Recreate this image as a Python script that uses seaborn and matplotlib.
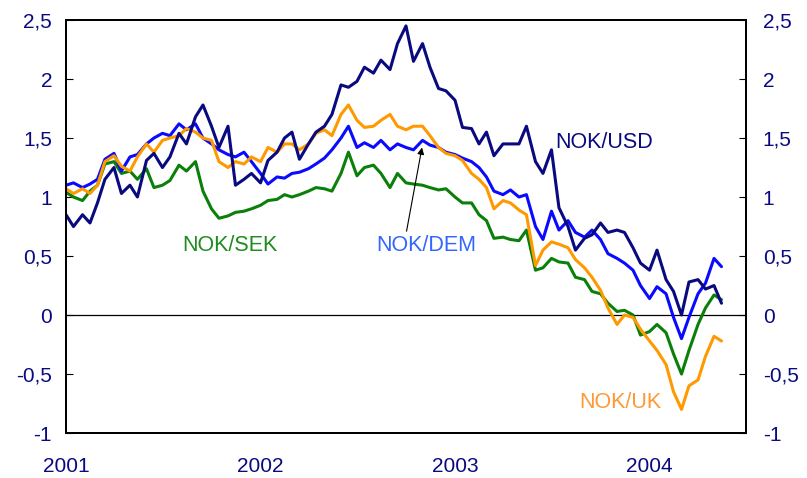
import pandas as pd
import seaborn as sns
import matplotlib.pyplot as plt
import matplotlib.dates as mdates

# semi-monthly readings, Jan 2001 - mid May 2004
dates = pd.date_range("2001-01-01", periods=82, freq="SMS")

nok_usd = [0.85, 0.75, 0.85, 0.78, 0.95, 1.15, 1.25, 1.03, 1.10, 1.00,
           1.31, 1.37, 1.25, 1.34, 1.54, 1.45, 1.68, 1.78, 1.60, 1.42,
           1.60, 1.10, 1.15, 1.20, 1.12, 1.31, 1.38, 1.50, 1.55, 1.32,
           1.45, 1.55, 1.60, 1.70, 1.95, 1.93, 1.98, 2.10, 2.05, 2.16,
           2.08, 2.30, 2.45, 2.15, 2.30, 2.10, 1.92, 1.90, 1.82, 1.59,
           1.58, 1.45, 1.55, 1.35, 1.45, 1.45, 1.45, 1.60, 1.30, 1.20,
           1.40, 0.91, 0.75, 0.55, 0.65, 0.68, 0.78, 0.70, 0.72, 0.70,
           0.57, 0.44, 0.38, 0.55, 0.30, 0.20, 0.00, 0.28, 0.30, 0.22,
           0.25, 0.10]

nok_dem = [1.10, 1.12, 1.08, 1.11, 1.15, 1.32, 1.37, 1.22, 1.34, 1.36,
           1.45, 1.50, 1.54, 1.52, 1.62, 1.57, 1.62, 1.50, 1.45, 1.40,
           1.36, 1.34, 1.38, 1.30, 1.20, 1.11, 1.17, 1.16, 1.20, 1.21,
           1.24, 1.28, 1.33, 1.40, 1.50, 1.60, 1.42, 1.46, 1.42, 1.48,
           1.40, 1.45, 1.42, 1.40, 1.48, 1.44, 1.42, 1.38, 1.36, 1.33,
           1.30, 1.25, 1.17, 1.05, 1.02, 1.06, 1.00, 1.02, 0.75, 0.64,
           0.88, 0.72, 0.80, 0.70, 0.66, 0.72, 0.64, 0.52, 0.48, 0.44,
           0.38, 0.25, 0.14, 0.24, 0.18, -0.02, -0.20, -0.02, 0.18, 0.27,
           0.48, 0.41]

nok_uk = [1.07, 1.03, 1.07, 1.03, 1.10, 1.30, 1.35, 1.26, 1.22, 1.34,
          1.45, 1.38, 1.48, 1.50, 1.52, 1.58, 1.55, 1.50, 1.48, 1.30,
          1.25, 1.30, 1.28, 1.34, 1.30, 1.42, 1.38, 1.45, 1.45, 1.40,
          1.45, 1.54, 1.57, 1.52, 1.70, 1.78, 1.65, 1.59, 1.60, 1.65,
          1.70, 1.60, 1.57, 1.60, 1.60, 1.52, 1.42, 1.37, 1.35, 1.31,
          1.20, 1.15, 1.08, 0.90, 0.97, 0.95, 0.89, 0.85, 0.42, 0.55,
          0.62, 0.60, 0.57, 0.47, 0.40, 0.32, 0.21, 0.06, -0.08, 0.00,
          -0.02, -0.12, -0.22, -0.30, -0.42, -0.65, -0.80, -0.60, -0.55, -0.35,
          -0.18, -0.22]

nok_sek = [1.04, 1.00, 0.97, 1.05, 1.10, 1.28, 1.30, 1.20, 1.22, 1.15,
           1.24, 1.08, 1.10, 1.14, 1.27, 1.22, 1.30, 1.05, 0.90, 0.82,
           0.84, 0.87, 0.88, 0.90, 0.93, 0.97, 0.98, 1.02, 1.00, 1.02,
           1.05, 1.08, 1.07, 1.05, 1.20, 1.38, 1.18, 1.25, 1.27, 1.20,
           1.08, 1.20, 1.12, 1.11, 1.10, 1.08, 1.06, 1.07, 1.00, 0.95,
           0.95, 0.85, 0.80, 0.65, 0.66, 0.64, 0.63, 0.72, 0.38, 0.40,
           0.48, 0.45, 0.44, 0.32, 0.30, 0.20, 0.18, 0.10, 0.03, 0.04,
           0.00, -0.17, -0.14, -0.08, -0.15, -0.33, -0.50, -0.30, -0.08, 0.06,
           0.17, 0.13]

yticks = [-1, -0.5, 0, 0.5, 1, 1.5, 2, 2.5]
ytick_labels = ["-1", "-0,5", "0", "0,5", "1", "1,5", "2", "2,5"]
year_ticks = ["2001-01-01", "2002-01-01", "2003-01-01", "2004-01-01"]
year_labels = ["2001", "2002", "2003", "2004"]

order = ["NOK/SEK", "NOK/DEM", "NOK/UK", "NOK/USD"]
palette = {"NOK/USD": "#0a0a80", "NOK/DEM": "#0a0aff",
           "NOK/UK": "#ff9900", "NOK/SEK": "#0a800a"}
text_colors = {"NOK/USD": "#0a0a80", "NOK/DEM": "#3366ff",
               "NOK/UK": "#ff9933", "NOK/SEK": "#1e8c1e"}

df = pd.DataFrame({"date": dates, "NOK/USD": nok_usd, "NOK/DEM": nok_dem,
                   "NOK/UK": nok_uk, "NOK/SEK": nok_sek})
long = df.melt(id_vars="date", var_name="pair", value_name="value")

sns.set_style("white")
plt.rcParams["font.family"] = ["Liberation Sans", "DejaVu Sans"]
navy = "#0a0a80"

fig = plt.figure(figsize=(8.07, 4.78), dpi=100)
ax = fig.add_axes([0.0818, 0.0941, 0.8426, 0.864])

sns.lineplot(data=long, x="date", y="value", hue="pair", hue_order=order,
             palette=palette, linewidth=2.2, legend=False, ax=ax)

ax.axhline(0, color="black", linewidth=0.9, zorder=1)

ax.set_xlim(mdates.date2num(pd.Timestamp("2001-01-01")),
            mdates.date2num(pd.Timestamp("2004-06-30")))
ax.set_ylim(-1, 2.5)
ax.set_xlabel("")
ax.set_ylabel("")

ax.set_xticks([mdates.date2num(pd.Timestamp(d)) for d in year_ticks])
ax.set_xticklabels(year_labels)
ax.set_yticks(yticks)
ax.set_yticklabels(ytick_labels)
ax.tick_params(axis="x", direction="in", length=5, width=0.8, pad=17,
               labelsize=15, labelcolor=navy, color="#555555")
ax.tick_params(axis="y", direction="in", length=5, width=0.8, pad=10,
               labelsize=15, labelcolor=navy, color="black")

ax2 = ax.twinx()
ax2.set_ylim(-1, 2.5)
ax2.set_yticks(yticks)
ax2.set_yticklabels(ytick_labels)
ax2.tick_params(axis="y", direction="in", length=5, width=0.8, pad=12,
                labelsize=15, labelcolor=navy, color="black")
ax2.grid(False)

for a in (ax, ax2):
    for s in a.spines.values():
        s.set_color("black")
        s.set_linewidth(1.4)

def d(s):
    return mdates.date2num(pd.Timestamp(s))

ax.text(d("2003-07-08"), 1.46, "NOK/USD", color=text_colors["NOK/USD"],
        fontsize=15.5, va="center", ha="left")
ax.text(d("2002-08-07"), 0.59, "NOK/DEM", color=text_colors["NOK/DEM"],
        fontsize=15.5, va="center", ha="left")
ax.text(d("2001-08-07"), 0.59, "NOK/SEK", color=text_colors["NOK/SEK"],
        fontsize=15.5, va="center", ha="left")
ax.text(d("2003-08-22"), -0.74, "NOK/UK", color=text_colors["NOK/UK"],
        fontsize=15.5, va="center", ha="left")

ax.annotate("", xy=(d("2002-10-31"), 1.42), xytext=(d("2002-10-02"), 0.71),
            arrowprops=dict(arrowstyle="-|>", color="black", lw=0.8,
                            mutation_scale=10, shrinkA=0, shrinkB=0))

fig.savefig("out.png", dpi=100)
